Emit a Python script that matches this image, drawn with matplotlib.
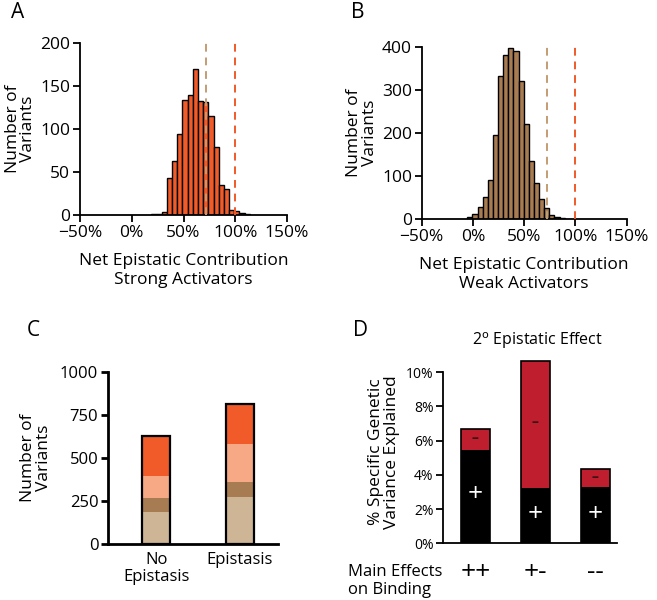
import numpy as np
import matplotlib
matplotlib.use('Agg')
import matplotlib.pyplot as plt

plt.rcParams['font.family'] = ['Open Sans', 'DejaVu Sans']

# Panel A: strong activators histogram (bin left edges in %, counts)
strong_edges = [19, 24, 29, 34, 39, 44, 49, 54, 59, 64, 69, 74, 79, 84, 89, 94, 99, 104, 109]
strong_counts = [1, 1, 4, 43, 63, 94, 134, 139, 170, 132, 131, 115, 79, 35, 30, 6, 5, 2, 1]

# Panel B: weak activators histogram
weak_edges = [-5.5, -0.5, 4.5, 9.5, 14.5, 19.5, 24.5, 29.5, 34.5, 39.5, 44.5, 49.5,
              54.5, 59.5, 64.5, 69.5, 74.5, 79.5, 84.5]
weak_counts = [4, 11, 28, 50, 90, 195, 331, 380, 398, 390, 320, 220, 135, 84, 46, 26, 9, 5, 2]

# dashed reference lines (%)
ref_brown = 72
ref_red = 100

# Panel C: stacked bars
c_groups = ['No\nEpistasis', 'Epistasis']
c_tan = [184, 271]
c_brown = [85, 87]
c_salmon = [128, 222]
c_orange = [230, 230]

# Panel D: variance explained (%)
d_groups = ['++', '+-', '--']
d_pos = [5.48, 3.26, 3.27]
d_neg = [1.19, 7.40, 1.08]
d_plus_y = [2.83, 1.66, 1.66]
d_minus_y = [6.18, 7.08, 3.90]

ORANGE = '#F15A29'
BROWN = '#A87C52'
TAN = '#CDB596'
SALMON = '#F7A985'
DKRED = '#BE1E2D'
BROWN_LINE = '#C49C72'

W, H = 657, 600
fig = plt.figure(figsize=(W / 100, H / 100), dpi=100)


def px_axes(left, top, right, bottom):
    return fig.add_axes([left / W, 1 - bottom / H, (right - left) / W, (bottom - top) / H])


def style(ax, lw=1.3, size=12.5):
    for s in ['top', 'right']:
        ax.spines[s].set_visible(False)
    for s in ['left', 'bottom']:
        ax.spines[s].set_linewidth(lw)
    ax.tick_params(direction='out', length=5, width=lw, labelsize=size, pad=2)


def hist_panel(ax, edges, counts, color, ymax, step, xlabel):
    ax.bar(edges, counts, width=5, align='edge', color=color, edgecolor='black', linewidth=1.0)
    ax.axvline(ref_brown, color=BROWN_LINE, lw=1.4, ls=(0, (4, 3)), zorder=3)
    ax.axvline(ref_red, color=ORANGE, lw=1.4, ls=(0, (4, 3)), zorder=3)
    ax.set_xlim(-50, 150)
    ax.set_ylim(0, ymax)
    ax.set_yticks(np.arange(0, ymax + 1, step))
    ax.set_xticks([-50, 0, 50, 100, 150])
    ax.set_xticklabels(['\u221250%', '0%', '50%', '100%', '150%'])
    style(ax)
    ax.set_xlabel(xlabel, fontsize=12.5, labelpad=9, linespacing=1.2)
    ax.set_ylabel('Number of\nVariants', fontsize=12.5, labelpad=3, linespacing=0.95)


axA = px_axes(80, 43, 287, 215)
hist_panel(axA, strong_edges, strong_counts, ORANGE, 200, 50,
           'Net Epistatic Contribution\nStrong Activators')

axB = px_axes(421.7, 46.7, 626.7, 219)
hist_panel(axB, weak_edges, weak_counts, BROWN, 400, 100,
           'Net Epistatic Contribution\nWeak Activators')

# Panel C
axC = px_axes(108, 371.7, 278, 544)
x = np.arange(len(c_groups))
bw = 0.336
bottom = np.zeros(len(c_groups))
for vals, col in [(c_tan, TAN), (c_brown, BROWN), (c_salmon, SALMON), (c_orange, ORANGE)]:
    axC.bar(x, vals, bw, bottom=bottom, color=col, linewidth=0)
    bottom += np.array(vals)
axC.bar(x, bottom, bw, fill=False, edgecolor='black', linewidth=1.6)
axC.set_xlim(-0.58, 1.46)
axC.set_ylim(0, 1000)
axC.set_yticks([0, 250, 500, 750, 1000])
axC.set_xticks(x)
style(axC, lw=2, size=12)
axC.set_xticklabels(c_groups, fontsize=12, linespacing=1.05)
axC.tick_params(axis='x', length=0, pad=6)
axC.set_ylabel('Number of\nVariants', fontsize=12.5, labelpad=6, linespacing=0.95)

# Panel D
axD = px_axes(443.3, 360.3, 617, 543.3)
xd = np.arange(len(d_groups))
dw = 0.49
axD.bar(xd, d_pos, dw, color='black', linewidth=0)
axD.bar(xd, d_neg, dw, bottom=d_pos, color=DKRED, linewidth=0)
axD.bar(xd, np.array(d_pos) + np.array(d_neg), dw, fill=False, edgecolor='black', linewidth=1.2)
for xi, py, my in zip(xd, d_plus_y, d_minus_y):
    axD.text(xi, py, '+', color='white', ha='center', va='center', fontsize=19)
    axD.text(xi, my, '\u2013', color='#3b1414', ha='center', va='center', fontsize=10, fontweight='bold')
axD.set_xlim(-0.533, 2.36)
axD.set_ylim(0, 10.7)
axD.set_yticks([0, 2, 4, 6, 8, 10])
axD.set_yticklabels(['0%', '2%', '4%', '6%', '8%', '10%'])
style(axD, lw=1.3, size=10)
axD.spines['left'].set_bounds(0, 10)
axD.set_xticks(xd)
axD.set_xticklabels(d_groups, fontsize=19)
axD.tick_params(axis='x', length=0, pad=12)
axD.set_ylabel('% Specific Genetic\nVariance Explained', fontsize=12.5, labelpad=4, linespacing=1.05)
fig.text(537 / W, 1 - 341 / H, '2$^\\mathrm{o}$ Epistatic Effect', fontsize=11.5, ha='center', va='center')
fig.text(348 / W, 1 - 581 / H, 'Main Effects\non Binding', fontsize=12, ha='left', va='center', linespacing=1.1)

# panel letters
for lbl, px, py in [('A', 11, 12), ('B', 351, 12), ('C', 27, 331), ('D', 353, 331)]:
    fig.text(px / W, 1 - py / H, lbl, fontsize=15, ha='left', va='center')

fig.savefig('out.png', dpi=100)
